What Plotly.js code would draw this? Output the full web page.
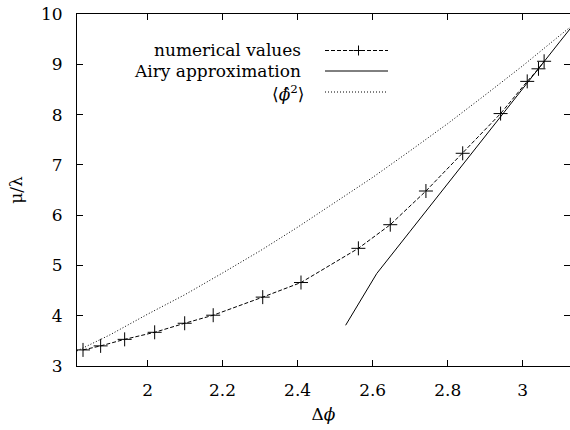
<!DOCTYPE html>
<html><head><meta charset="utf-8">
<script src="https://cdn.plot.ly/plotly-3.0.1.min.js"></script>
<style>html,body{margin:0;padding:0;overflow:hidden;background:#fff}</style>
</head><body><div id="chart" style="width:575px;height:430px"></div>
<script>
// numerical values (+ markers, dashed line)
const numX = [1.828,1.875,1.939,2.019,2.099,2.175,2.307,2.409,2.562,2.647,2.742,2.840,2.941,3.012,3.042,3.057];
const numY = [3.32,3.40,3.53,3.67,3.85,4.01,4.37,4.66,5.34,5.81,6.48,7.23,8.02,8.66,8.91,9.06];
// Airy approximation (solid)
const airyX = [2.528,2.570,2.611,2.7,2.8,2.9,3.0,3.1,3.13];
const airyY = [3.81,4.34,4.84,5.68,6.63,7.57,8.52,9.46,9.74];
// <phi^2> (dotted)
const phiX = [1.812,1.9,2.0,2.1,2.2,2.3,2.4,2.5,2.6,2.7,2.8,2.9,3.0,3.1,3.13];
const phiY = [3.30,3.62,4.03,4.42,4.85,5.29,5.76,6.25,6.75,7.28,7.82,8.39,8.97,9.58,9.76];
const xTicks = [2,2.2,2.4,2.6,2.8,3];
const yTicks = [3,4,5,6,7,8,9,10];
const legendNames = ['numerical values','Airy approximation','⟨<i>ϕ̂</i><sup>2</sup>⟩'];

const FONT = 'DejaVu Serif';
const FS = 17;
const L = 77, R = 5, T = 14, B = 64, W = 575, H = 430;
const pw = W - L - R, ph = H - T - B;
const px2x = p => (p - L) / pw;
const px2y = p => (H - B - p) / ph;

const traces = [
  {x: phiX, y: phiY, mode: 'lines', line: {color: '#000', width: 1, dash: '1px,2px'}, hoverinfo: 'skip'},
  {x: airyX, y: airyY, mode: 'lines', line: {color: '#000', width: 1}, hoverinfo: 'skip'},
  {x: numX, y: numY, mode: 'lines+markers', line: {color: '#000', width: 1, dash: '4px,2px'},
   marker: {symbol: 'cross-thin-open', size: 10, color: '#000', line: {width: 1, color: '#000'}}, hoverinfo: 'skip'}
];

const rowsY = [50.5, 71, 92];
const textY = [50, 70.5, 93];
const annotations = legendNames.map((t, i) => ({
  xref: 'paper', yref: 'paper', x: px2x(i === 2 ? 306 : 303), y: px2y(textY[i]), xanchor: 'right', yanchor: 'middle',
  text: t, showarrow: false, font: {family: FONT, size: FS, color: '#000'}
}));
const dashes = ['4px,2px', 'solid', '1px,2px'];
const shapes = rowsY.map((y, i) => ({
  type: 'line', xref: 'paper', yref: 'paper', x0: px2x(325), x1: px2x(388), y0: px2y(y), y1: px2y(y),
  line: {color: '#000', width: 1, dash: dashes[i]}
}));
shapes.push({type: 'line', xref: 'paper', yref: 'paper', x0: px2x(358.5), x1: px2x(358.5), y0: px2y(rowsY[0] - 5), y1: px2y(rowsY[0] + 5), line: {color: '#000', width: 1}});
shapes.push({type: 'line', xref: 'paper', yref: 'paper', x0: px2x(353.5), x1: px2x(363.5), y0: px2y(rowsY[0]), y1: px2y(rowsY[0]), line: {color: '#000', width: 1}});

const axisCommon = {
  showline: true, linecolor: '#000', linewidth: 1, mirror: 'ticks', ticks: 'inside', ticklen: 6,
  tickcolor: '#000', tickwidth: 1, showgrid: false, zeroline: false,
  tickfont: {family: FONT, size: FS, color: '#000'}
};

const layout = {
  width: W, height: H, margin: {l: L, r: R, t: T, b: B},
  font: {family: FONT, size: FS, color: '#000'},
  paper_bgcolor: '#fff', plot_bgcolor: '#fff', showlegend: false,
  xaxis: Object.assign({}, axisCommon, {range: [1.812, 3.126], tickvals: xTicks, ticktext: xTicks.map(String),
    ticklabelstandoff: 9,
    title: {text: 'Δ<i>ϕ</i>', font: {family: FONT, size: FS, color: '#000'}, standoff: 8}}),
  yaxis: Object.assign({}, axisCommon, {range: [3, 10], tickvals: yTicks, ticktext: yTicks.map(String),
    ticklabelstandoff: 10,
    title: {text: 'μ/λ', font: {family: FONT, size: FS, color: '#000'}, standoff: 14}}),
  annotations: annotations, shapes: shapes
};

Plotly.newPlot('chart', traces, layout, {displayModeBar: false, staticPlot: true});
</script></body></html>
